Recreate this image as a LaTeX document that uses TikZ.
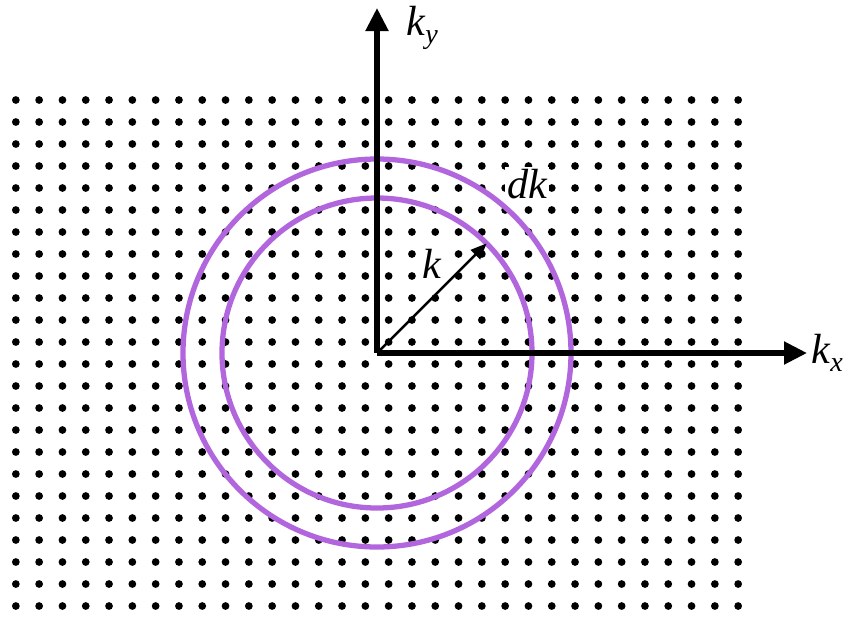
\documentclass[tikz,border=0pt]{standalone}
\usepackage{fontspec}
\setmainfont{Liberation Serif}
\newfontfamily\labelfont{Liberation Serif Italic}
\usetikzlibrary{arrows.meta, positioning}
\definecolor{shellpurple}{RGB}{178,102,222}
\newcommand{\kvec}[1]{k\raisebox{-0.4ex}{\fontsize{16}{17}\selectfont #1}}

\begin{document}
\begin{tikzpicture}[
    axis/.style={line width=2.9pt, -{Triangle[length=0.46cm, width=0.44cm]}},
    shell/.style={shellpurple, line width=3pt},
    lbl/.style={font=\fontsize{24}{26}\labelfont, inner sep=1pt},
    dot/.style={circle, fill=black, inner sep=0pt, minimum size=0.155cm}
]
    \useasboundingbox (-7.54,-5.34) rectangle (9.36,7.06);

    % Lattice of allowed states
    \foreach \i in {0,...,31} {
        \foreach \j in {0,...,23} {
            \node[dot] (p\i-\j) at ({(\i-15.5)*0.466}, {(11.5-\j)*0.44}) {};
        }
    }

    % Shells
    \draw[shell] (0,0) circle (3.88);
    \draw[shell] (0,0) circle (3.1);

    % Axes
    \coordinate (O) at (0,0);
    \coordinate (xend) at (8.6,0);
    \coordinate (yend) at (0,6.9);
    \draw[axis] (O) -- (xend);
    \draw[axis] (O) -- (yend);
    \node[lbl, right=0.05cm of xend] (kx) {\kvec{x}};
    \node[lbl, anchor=west] (ky) at (0.55,6.5) {\kvec{y}};

    % Radius vector
    \coordinate (ktip) at (45:3.1);
    \draw[line width=1.4pt, -{Triangle[length=0.32cm, width=0.26cm]}] (O) -- (ktip);
    \node[lbl, fill=white] (klbl) at (1.1,1.78) {k};
    \node[lbl, fill=white] (dk) at (3.0,3.38) {dk};

\end{tikzpicture}
\end{document}
